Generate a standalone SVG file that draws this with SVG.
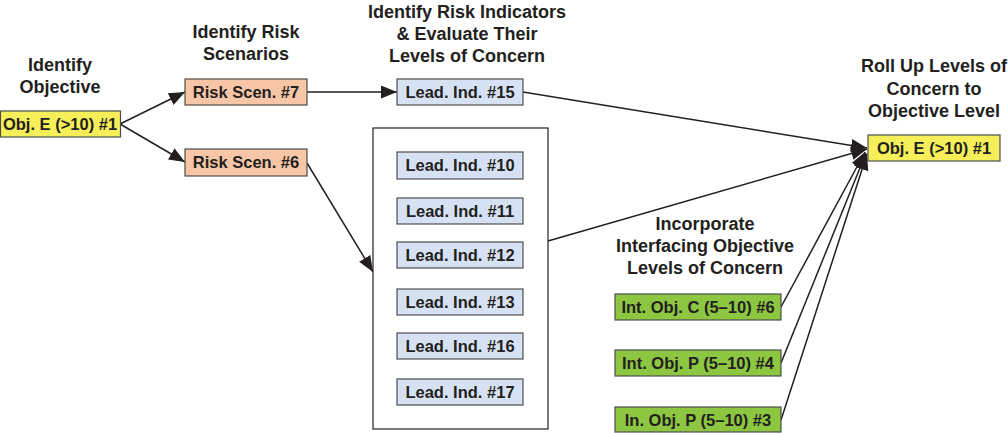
<svg xmlns="http://www.w3.org/2000/svg" width="1008" height="433" viewBox="0 0 1008 433">
<style>
.h{font-family:"Liberation Sans",Arial,sans-serif;font-weight:bold;font-size:18px;fill:#231f20;text-anchor:middle}
.t{font-family:"Liberation Sans",Arial,sans-serif;font-weight:bold;font-size:16.5px;fill:#231f20;text-anchor:middle}
.b{stroke:#4d4d4d;stroke-width:1.2}
.y{fill:#f6ef5a}
.o{fill:#f7c6a6}
.l{fill:#d6e2f3}
.g{fill:#8dc641}
.c{stroke:#231f20;stroke-width:1.5;fill:none;marker-end:url(#ah)}
</style>
<defs>
<marker id="ah" markerUnits="userSpaceOnUse" markerWidth="17" markerHeight="13" refX="16" refY="6.5" orient="auto">
<path d="M0,0 L16,6.5 L0,13 z" fill="#231f20"/>
</marker>
</defs>
<rect width="1008" height="433" fill="#fff"/>
<g id="headings">
<text class="h" x="60" y="71">Identify</text>
<text class="h" x="60" y="93">Objective</text>
<text class="h" x="246" y="38">Identify Risk</text>
<text class="h" x="246" y="60">Scenarios</text>
<text class="h" x="467" y="18">Identify Risk Indicators</text>
<text class="h" x="467" y="40">&amp; Evaluate Their</text>
<text class="h" x="467" y="62">Levels of Concern</text>
<text class="h" x="934" y="72">Roll Up Levels of</text>
<text class="h" x="934" y="95">Concern to</text>
<text class="h" x="934" y="117">Objective Level</text>
<text class="h" x="705" y="230">Incorporate</text>
<text class="h" x="705" y="252">Interfacing Objective</text>
<text class="h" x="705" y="274">Levels of Concern</text>
</g>
<g id="connectors">
<line class="c" x1="120" y1="124" x2="185" y2="92"/>
<line class="c" x1="120" y1="124" x2="185" y2="162"/>
<line class="c" x1="307" y1="92" x2="397" y2="92"/>
<line class="c" x1="307" y1="163" x2="373" y2="272"/>
<line class="c" x1="523" y1="92" x2="867" y2="148"/>
<line class="c" x1="548" y1="241" x2="867" y2="149"/>
<line class="c" x1="781" y1="307" x2="865" y2="152"/>
<line class="c" x1="781" y1="363" x2="866" y2="153"/>
<line class="c" x1="781" y1="420" x2="867" y2="154"/>
</g>
<g id="objE1">
<rect class="b y" x="0.5" y="111" width="120" height="26"/>
<text class="t" x="60" y="130">Obj. E (&gt;10) #1</text>
</g>
<g id="risk7">
<rect class="b o" x="185" y="79" width="122" height="26"/>
<text class="t" x="246" y="98">Risk Scen. #7</text>
</g>
<g id="risk6">
<rect class="b o" x="185" y="149" width="122" height="27"/>
<text class="t" x="246" y="168">Risk Scen. #6</text>
</g>
<g id="lead15">
<rect class="b l" x="397" y="79" width="126" height="26"/>
<text class="t" x="460" y="98">Lead. Ind. #15</text>
</g>
<g id="group">
<rect x="373" y="128" width="175" height="301" fill="#fff" stroke="#231f20" stroke-width="1.2"/>
</g>
<g id="lead10">
<rect class="b l" x="397" y="152" width="126" height="27"/>
<text class="t" x="460" y="171">Lead. Ind. #10</text>
</g>
<g id="lead11">
<rect class="b l" x="397" y="198" width="126" height="26"/>
<text class="t" x="460" y="217">Lead. Ind. #11</text>
</g>
<g id="lead12">
<rect class="b l" x="397" y="242" width="126" height="26"/>
<text class="t" x="460" y="261">Lead. Ind. #12</text>
</g>
<g id="lead13">
<rect class="b l" x="397" y="289" width="126" height="26"/>
<text class="t" x="460" y="308">Lead. Ind. #13</text>
</g>
<g id="lead16">
<rect class="b l" x="397" y="333" width="126" height="26"/>
<text class="t" x="460" y="352">Lead. Ind. #16</text>
</g>
<g id="lead17">
<rect class="b l" x="397" y="379" width="126" height="26"/>
<text class="t" x="460" y="398">Lead. Ind. #17</text>
</g>
<g id="objE1r">
<rect class="b y" x="868" y="135" width="132" height="26"/>
<text class="t" x="934" y="154">Obj. E (&gt;10) #1</text>
</g>
<g id="intC6">
<rect class="b g" x="615" y="294" width="166" height="26"/>
<text class="t" x="698" y="313">Int. Obj. C (5–10) #6</text>
</g>
<g id="intP4">
<rect class="b g" x="615" y="350" width="166" height="26"/>
<text class="t" x="698" y="369">Int. Obj. P (5–10) #4</text>
</g>
<g id="inP3">
<rect class="b g" x="615" y="407" width="166" height="25"/>
<text class="t" x="698" y="426">In. Obj. P (5–10) #3</text>
</g>
</svg>
